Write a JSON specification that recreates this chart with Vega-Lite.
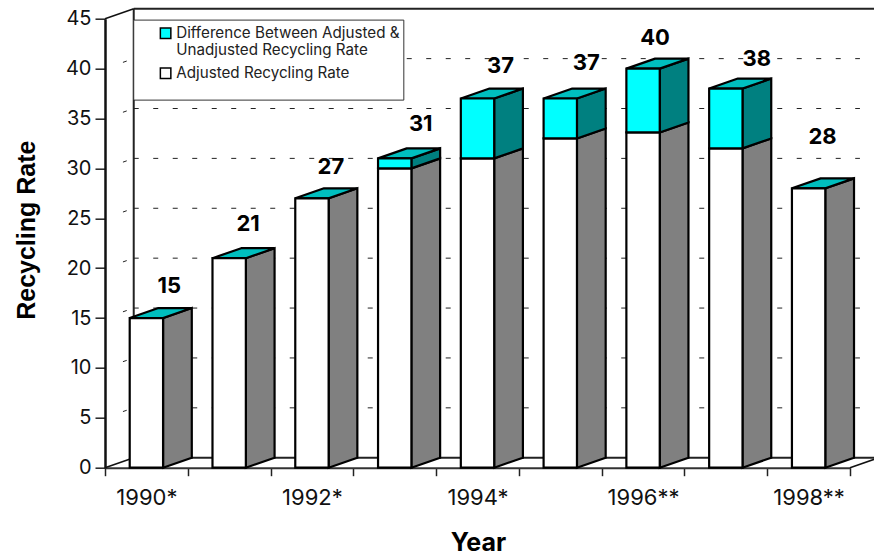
{
  "$schema": "https://vega.github.io/schema/vega-lite/v6.json",
  "width": 745,
  "height": 449,
  "autosize": "none",
  "padding": {"left": 105, "top": 18.7, "right": 24, "bottom": 92.3},
  "background": "white",
  "config": {"view": {"stroke": null}, "font": "Inter"},
  "datasets": {
    "rates": [
      {"year": "1990*", "adjusted": 15, "total": 15},
      {"year": "1991", "adjusted": 21, "total": 21},
      {"year": "1992*", "adjusted": 27, "total": 27},
      {"year": "1993", "adjusted": 30, "total": 31},
      {"year": "1994*", "adjusted": 31, "total": 37},
      {"year": "1995", "adjusted": 33, "total": 37},
      {"year": "1996**", "adjusted": 33.6, "total": 40},
      {"year": "1997", "adjusted": 32, "total": 38},
      {"year": "1998**", "adjusted": 28, "total": 28}
    ],
    "gridLevels": [
      {"level": 5}, {"level": 10}, {"level": 15}, {"level": 20},
      {"level": 25}, {"level": 30}, {"level": 35}, {"level": 40}
    ],
    "frame": [
      {"edge": "top", "x": 0.347, "x2": 9.347, "y": 46, "y2": 46},
      {"edge": "floor", "x": 0.347, "x2": 9.347, "y": 1, "y2": 1},
      {"edge": "wall", "x": 0.347, "x2": 0.347, "y": 1, "y2": 46}
    ],
    "corners": [
      {"corner": "a", "x": 0, "y": 45}, {"corner": "a", "x": 0.347, "y": 46},
      {"corner": "b", "x": 0, "y": 0}, {"corner": "b", "x": 0.347, "y": 1},
      {"corner": "c", "x": 9, "y": 0}, {"corner": "c", "x": 9.347, "y": 1}
    ],
    "legendPanel": [{"x": 0.347, "x2": 3.61, "y": 44.86, "y2": 36.84}]
  },
  "layer": [
    {
      "description": "Dashed guides on the back wall",
      "data": {"name": "gridLevels"},
      "transform": [
        {"calculate": "datum.level + 1", "as": "wallY"}
      ],
      "mark": {"type": "rule", "color": "#222", "strokeWidth": 1, "strokeDash": [5, 14.5]},
      "encoding": {
        "x": {"datum": 0.347, "type": "quantitative", "scale": {"domain": [0, 9], "nice": false, "zero": false}, "axis": null},
        "x2": {"datum": 9.12},
        "y": {
          "field": "wallY", "type": "quantitative",
          "scale": {"domain": [0, 45], "nice": false},
          "axis": {
            "values": [0, 5, 10, 15, 20, 25, 30, 35, 40, 45],
            "grid": false, "title": "Recycling Rate",
            "titleFont": "Liberation Sans", "titleFontWeight": "bold", "titleFontSize": 25,
            "titleColor": "#000", "titleX": -79, "titleY": 211, "titleAlign": "center", "titleBaseline": "middle",
            "labelFont": "Inter", "labelFontSize": 20, "labelColor": "#111", "labelPadding": 4,
            "tickSize": 10, "tickColor": "#222", "tickWidth": 1.5,
            "domainColor": "#111", "domainWidth": 2.5
          }
        }
      }
    },
    {
      "description": "Short dashes where the guides turn up the side wall",
      "data": {"name": "gridLevels"},
      "transform": [
        {"calculate": "[0, 1]", "as": "t"},
        {"flatten": ["t"]},
        {"calculate": "datum.t * 0.347", "as": "sx"},
        {"calculate": "datum.level + datum.t", "as": "sy"}
      ],
      "mark": {"type": "line", "color": "#222", "strokeWidth": 1, "strokeDash": [0, 19, 4, 40]},
      "encoding": {
        "x": {"field": "sx", "type": "quantitative", "scale": {"domain": [0, 9], "nice": false, "zero": false}, "axis": null},
        "y": {"field": "sy", "type": "quantitative"},
        "detail": {"field": "level"}
      }
    },
    {
      "description": "Box edges of the chart frame",
      "data": {"name": "frame"},
      "mark": {"type": "rule", "color": "#222", "strokeWidth": 2},
      "encoding": {
        "x": {"field": "x", "type": "quantitative", "scale": {"domain": [0, 9], "nice": false, "zero": false}, "axis": null},
        "x2": {"field": "x2"},
        "y": {"field": "y", "type": "quantitative"},
        "y2": {"field": "y2"}
      }
    },
    {
      "data": {"name": "corners"},
      "mark": {"type": "line", "color": "#111", "strokeWidth": 1.5},
      "encoding": {
        "x": {"field": "x", "type": "quantitative", "scale": {"domain": [0, 9], "nice": false, "zero": false}, "axis": null},
        "y": {"field": "y", "type": "quantitative"},
        "detail": {"field": "corner"}
      }
    },
    {
      "description": "White panel behind the legend",
      "data": {"name": "legendPanel"},
      "mark": {"type": "rect", "fill": "white", "stroke": "#333", "strokeWidth": 1},
      "encoding": {
        "x": {"field": "x", "type": "quantitative", "scale": {"domain": [0, 9], "nice": false, "zero": false}, "axis": null},
        "x2": {"field": "x2"},
        "y": {"field": "y", "type": "quantitative"},
        "y2": {"field": "y2"}
      }
    },
    {
      "description": "Side face, lower part",
      "data": {"name": "rates"},
      "transform": [
        {"calculate": "toNumber(substring(datum.year, 0, 4)) - 1990", "as": "i"},
        {"calculate": "[0, 1]", "as": "t"},
        {"flatten": ["t"]},
        {"calculate": "datum.i + 0.7015 + datum.t * 0.347", "as": "sx"},
        {"calculate": "datum.adjusted + datum.t", "as": "sTop"}
      ],
      "mark": {"type": "area", "orient": "vertical", "fill": "#808080", "stroke": "#000", "strokeWidth": 2.2},
      "encoding": {
        "x": {"field": "sx", "type": "quantitative", "scale": {"domain": [0, 9], "nice": false, "zero": false}, "axis": null},
        "y": {"field": "sTop", "type": "quantitative"},
        "y2": {"field": "t"},
        "detail": {"field": "year"}
      }
    },
    {
      "description": "Side face, adjustment part",
      "data": {"name": "rates"},
      "transform": [
        {"filter": "datum.total > datum.adjusted"},
        {"calculate": "toNumber(substring(datum.year, 0, 4)) - 1990", "as": "i"},
        {"calculate": "[0, 1]", "as": "t"},
        {"flatten": ["t"]},
        {"calculate": "datum.i + 0.7015 + datum.t * 0.347", "as": "sx"},
        {"calculate": "datum.total + datum.t", "as": "sTop"},
        {"calculate": "datum.adjusted + datum.t", "as": "sBase"}
      ],
      "mark": {"type": "area", "orient": "vertical", "fill": "#008080", "stroke": "#000", "strokeWidth": 2.2},
      "encoding": {
        "x": {"field": "sx", "type": "quantitative", "scale": {"domain": [0, 9], "nice": false, "zero": false}, "axis": null},
        "y": {"field": "sTop", "type": "quantitative"},
        "y2": {"field": "sBase"},
        "detail": {"field": "year"}
      }
    },
    {
      "description": "Top face",
      "data": {"name": "rates"},
      "transform": [
        {"calculate": "toNumber(substring(datum.year, 0, 4)) - 1990", "as": "i"},
        {"calculate": "[0, 1]", "as": "t"},
        {"flatten": ["t"]},
        {"calculate": "datum.i + 0.2985 + datum.t * 0.347", "as": "left"},
        {"calculate": "datum.i + 0.7015 + datum.t * 0.347", "as": "right"},
        {"calculate": "datum.total + datum.t", "as": "level"}
      ],
      "mark": {"type": "area", "orient": "horizontal", "fill": "#00BFBF", "stroke": "#000", "strokeWidth": 2.2},
      "encoding": {
        "y": {"field": "level", "type": "quantitative"},
        "x": {"field": "left", "type": "quantitative", "scale": {"domain": [0, 9], "nice": false, "zero": false}, "axis": null},
        "x2": {"field": "right"},
        "detail": {"field": "year"}
      }
    },
    {
      "data": {"name": "rates"},
      "encoding": {
        "x": {
          "field": "year", "type": "nominal", "sort": null,
          "scale": {"paddingInner": 0, "paddingOuter": 0},
          "axis": {
            "title": "Year", "titleFont": "Inter", "titleFontWeight": "bold", "titleFontSize": 25, "titleColor": "#000",
            "titleX": 373, "titleY": 75, "titleAlign": "center", "titleBaseline": "middle",
            "labelAngle": 0, "labelFont": "Inter", "labelFontSize": 22, "labelColor": "#111", "labelPadding": 12,
            "labelOverlap": false, "labelBound": false, "labelFlush": false,
            "labelExpr": "indexof(datum.label, '*') >= 0 ? datum.label : ''",
            "tickBand": "extent", "tickSize": 8, "tickColor": "#222", "tickWidth": 1.5,
            "domainColor": "#333", "domainWidth": 2
          }
        }
      },
      "layer": [
        {
          "mark": {"type": "bar", "width": {"band": 0.403}, "stroke": "#000", "strokeWidth": 2.2},
          "encoding": {
            "y": {"field": "adjusted", "type": "quantitative"},
            "y2": {"datum": 0},
            "fill": {
              "datum": "Adjusted Recycling Rate",
              "scale": {
                "domain": ["Difference Between Adjusted & Unadjusted Recycling Rate", "Adjusted Recycling Rate"],
                "range": ["#00FFFF", "#FFFFFF"]
              },
              "legend": {
                "orient": "none", "legendX": 53, "legendY": 7, "title": null, "zindex": 1,
                "symbolType": "square", "symbolSize": 110, "symbolStrokeColor": "#000", "symbolStrokeWidth": 1.5,
                "labelFont": "Inter", "labelFontSize": 15.2, "labelColor": "#222", "labelOffset": 3, "labelLimit": 300,
                "rowPadding": 6,
                "labelExpr": "indexof(datum.label, '&') >= 0 ? ['Difference Between Adjusted &', 'Unadjusted Recycling Rate'] : datum.label"
              }
            }
          }
        },
        {
          "transform": [{"filter": "datum.total > datum.adjusted"}],
          "mark": {"type": "bar", "width": {"band": 0.403}, "stroke": "#000", "strokeWidth": 2.2},
          "encoding": {
            "y": {"field": "total", "type": "quantitative"},
            "y2": {"field": "adjusted"},
            "fill": {"datum": "Difference Between Adjusted & Unadjusted Recycling Rate"}
          }
        },
        {
          "description": "Rate labels above each bar",
          "mark": {
            "type": "text", "font": "Inter", "fontWeight": "bold", "fontSize": 22, "color": "#000", "baseline": "middle",
            "dx": {"expr": "{'1990*': 23, '1991': 19, '1992*': 19, '1993': 26, '1994*': 23, '1995': 26, '1996**': 12, '1997': 31, '1998**': 14}[datum.year]"},
            "dy": {"expr": "{'1990*': -32, '1991': -34, '1992*': -31, '1993': -34, '1994*': -33, '1995': -36, '1996**': -31, '1997': -30, '1998**': -51}[datum.year]"}
          },
          "encoding": {
            "y": {"field": "total", "type": "quantitative"},
            "text": {"field": "total", "type": "quantitative", "format": "d"}
          }
        }
      ]
    }
  ],
  "resolve": {"scale": {"x": "independent"}}
}
